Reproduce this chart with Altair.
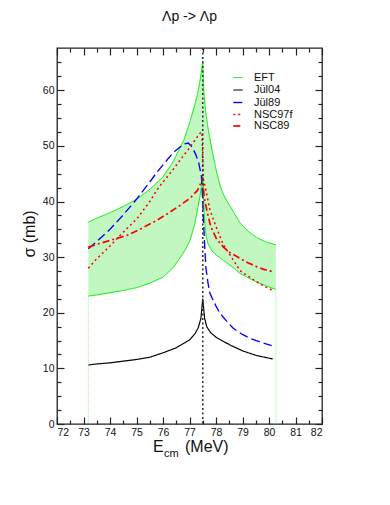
import altair as alt
import pandas as pd

FONT = "Liberation Sans"

TITLE = "Λp -> Λp"
X_TITLE_MAIN = "E"
X_TITLE_SUB = "cm"
X_TITLE_UNIT = "(MeV)"
Y_TITLE = "σ (mb)"

MODELS = ["EFT", "Jül04", "Jül89", "NSC97f", "NSC89"]
COLORS = ["#00ee00", "#000000", "#0000ff", "#ff0000", "#ff0000"]
DASHES = [[1, 0], [1, 0], [9, 4], [2, 3], [7, 3, 2, 3]]
WIDTHS = [1.0, 1.7, 1.9, 1.9, 1.9]

X_DOMAIN = [72, 82]
Y_DOMAIN = [0, 67.6]
X_TICKS = [72, 73, 74, 75, 76, 77, 78, 79, 80, 81, 82]
X_MINOR = [72.5, 73.5, 74.5, 75.5, 76.5, 77.5, 78.5, 79.5, 80.5, 81.5]
Y_TICKS = [0, 10, 20, 30, 40, 50, 60]
Y_MINOR = [2.5, 5, 7.5, 12.5, 15, 17.5, 22.5, 25, 27.5, 32.5, 35, 37.5,
           42.5, 45, 47.5, 52.5, 55, 57.5, 62.5, 65]

THRESHOLD_E = [77.5]

# EFT band
BAND_E = [73.18, 73.5, 74.0, 74.5, 75.0, 75.5, 76.0, 76.4, 76.8, 77.02, 77.2, 77.3,
          77.4, 77.47, 77.5, 77.53, 77.57, 77.62, 77.7, 77.85, 78.0, 78.15, 78.28,
          78.4, 78.65, 78.9, 79.2, 79.54, 79.9, 80.26]
BAND_HI = [36.3, 37.0, 38.0, 39.1, 40.4, 42.2, 44.4, 47.3, 51.2, 54.4, 57.4, 59.3,
           61.8, 64.0, 65.3, 61.0, 58.2, 55.8, 53.2, 49.2, 45.8, 42.9, 41.3,
           40.2, 38.2, 36.2, 34.7, 33.5, 32.7, 32.2]
BAND_LO = [23.0, 23.2, 23.6, 24.0, 24.5, 25.3, 26.4, 28.2, 31.0, 33.0, 36.0, 38.5,
           41.0, 43.5, 44.6, 40.5, 36.5, 34.0, 32.4, 31.1, 30.4, 29.9, 29.4,
           29.0, 28.1, 27.1, 26.3, 25.5, 24.8, 24.2]

# Jül04
J04_E = [73.18, 73.5, 74.0, 74.5, 75.0, 75.5, 76.0, 76.5, 77.0, 77.2, 77.33, 77.43,
         77.5, 77.57, 77.65, 77.8, 78.03, 78.3, 78.53, 79.03, 79.54, 80.14]
J04_S = [10.6, 10.8, 11.0, 11.3, 11.6, 12.0, 12.8, 13.7, 15.1, 16.2, 17.3, 19.0,
         22.5, 19.0, 17.5, 16.4, 15.5, 14.8, 14.2, 13.1, 12.3, 11.7]

# Jül89
J89_E = [73.18, 73.5, 74.0, 74.5, 75.0, 75.5, 75.76, 76.0, 76.39, 76.77, 76.95,
         77.1, 77.25, 77.35, 77.45, 77.5, 77.52, 77.58, 77.62, 77.7, 77.77, 78.0,
         78.15, 78.4, 78.65, 79.0, 79.28, 79.7, 80.1]
J89_S = [31.5, 32.8, 35.0, 37.6, 40.4, 43.5, 45.2, 46.6, 48.8, 50.3, 50.5,
         49.8, 48.3, 46.9, 44.5, 40.0, 37.4, 31.4, 28.0, 25.3, 23.5, 21.2,
         19.9, 18.5, 17.2, 16.1, 15.4, 14.7, 14.1]

# NSC97f
N97_E = [73.18, 73.5, 74.0, 74.5, 75.0, 75.5, 75.76, 76.0, 76.39, 76.7, 76.96,
         77.2, 77.4, 77.47, 77.5, 77.52, 77.6, 77.77, 78.0, 78.28, 78.65, 78.9,
         79.2, 79.53, 79.8, 80.16]
N97_S = [28.0, 29.7, 32.0, 34.5, 36.8, 40.0, 42.0, 43.5, 45.8, 47.8, 49.4,
         51.0, 52.3, 52.5, 47.0, 44.0, 42.5, 38.5, 35.5, 32.2, 29.5, 27.6,
         26.6, 25.6, 24.8, 24.0]

# NSC89
N89_E = [73.18, 73.5, 74.0, 74.63, 75.13, 75.76, 76.2, 76.64, 77.02, 77.3, 77.45,
         77.5, 77.55, 77.65, 77.8, 78.03, 78.28, 78.53, 78.9, 79.2, 79.53, 79.8, 80.13]
N89_S = [31.8, 32.3, 33.0, 33.9, 35.0, 36.6, 37.9, 39.3, 40.6, 42.0, 43.5,
         44.3, 41.0, 38.5, 35.5, 33.2, 31.8, 30.8, 29.8, 29.0, 28.3, 27.8, 27.4]

# ---------------------------------------------------------------- tables
band_df = pd.DataFrame({"E": BAND_E, "lo": BAND_LO, "hi": BAND_HI})

rows = []
for e, v in zip(BAND_E, BAND_HI):
    rows.append({"E": e, "sigma": v, "model": "EFT", "part": "EFT_hi"})
for e, v in zip(BAND_E, BAND_LO):
    rows.append({"E": e, "sigma": v, "model": "EFT", "part": "EFT_lo"})
for name, es, ss in [("Jül04", J04_E, J04_S), ("Jül89", J89_E, J89_S),
                     ("NSC97f", N97_E, N97_S), ("NSC89", N89_E, N89_S)]:
    for e, v in zip(es, ss):
        rows.append({"E": e, "sigma": v, "model": name, "part": name})
lines_df = pd.DataFrame(rows)

thr_df = pd.DataFrame({"E": THRESHOLD_E})
edge_df = pd.DataFrame({"E": [BAND_E[0], BAND_E[-1]],
                        "top": [BAND_LO[0], BAND_LO[-1]],
                        "base": [0, 0]})

W, H = 265, 376

xs = alt.Scale(domain=X_DOMAIN, nice=False, zero=False)
ys = alt.Scale(domain=Y_DOMAIN, nice=False, zero=False)


def major(orient, values, labels, flush=True):
    return alt.Axis(orient=orient, values=values, offset=-7, tickSize=7,
                    domain=False, grid=False, labels=labels, title=None,
                    labelFontSize=10.5, labelFont=FONT, labelColor="#111",
                    labelPadding=3, tickColor="#222", tickWidth=1.2,
                    labelOverlap=False, labelFlush=flush, zindex=2)


def minor(orient, values):
    return alt.Axis(orient=orient, values=values, offset=-4, tickSize=4,
                    domain=False, grid=False, labels=False, title=None,
                    tickColor="#222", tickWidth=1.2, zindex=2)


band = alt.Chart(band_df).mark_area(color="#c2f7c2", opacity=1.0).encode(
    x=alt.X("E:Q", scale=xs, axis=major("bottom", X_TICKS, True)),
    y=alt.Y("lo:Q", scale=ys, axis=major("left", Y_TICKS, True, False)),
    y2="hi:Q",
)

legend = alt.Legend(orient="none", legendX=175, legendY=24, title=None,
                    symbolType="stroke", symbolSize=90, symbolStrokeWidth=1.6,
                    labelFontSize=11, labelFont=FONT, labelColor="#111",
                    labelOffset=10, rowPadding=0.5, padding=0)

lines = alt.Chart(lines_df).mark_line(clip=True).encode(
    x=alt.X("E:Q", scale=xs, axis=minor("bottom", X_MINOR)),
    y=alt.Y("sigma:Q", scale=ys, axis=minor("left", Y_MINOR)),
    color=alt.Color("model:N", scale=alt.Scale(domain=MODELS, range=COLORS),
                    legend=legend, sort=MODELS),
    strokeDash=alt.StrokeDash("model:N", scale=alt.Scale(domain=MODELS, range=DASHES),
                              legend=legend, sort=MODELS),
    strokeWidth=alt.StrokeWidth("model:N", scale=alt.Scale(domain=MODELS, range=WIDTHS),
                                legend=None),
    detail="part:N",
)

thr = alt.Chart(thr_df).mark_rule(color="#333", strokeDash=[2, 2.5], strokeWidth=1.6).encode(
    x=alt.X("E:Q", scale=xs, axis=major("top", X_TICKS, False)),
    y=alt.value(0),
    y2=alt.value(H),
)

edges = alt.Chart(edge_df).mark_rule(color="#7de87d", strokeDash=[1, 1], strokeWidth=0.8).encode(
    x=alt.X("E:Q", scale=xs, axis=minor("top", X_MINOR)),
    y=alt.Y("top:Q", scale=ys, axis=minor("right", Y_MINOR)),
    y2="base:Q",
)

thr_y = alt.Chart(thr_df).mark_point(opacity=0).encode(
    x=alt.X("E:Q", scale=xs, axis=None),
    y=alt.Y("E:Q", scale=ys, axis=major("right", Y_TICKS, False, False)),
)


def label(text, x, y, size, **kw):
    return alt.Chart(pd.DataFrame({"t": [text]})).mark_text(
        font=FONT, fontSize=size, color="#111", **kw
    ).encode(text="t:N", x=alt.value(x), y=alt.value(y))


title = label(TITLE, W / 2, -27, 14, align="center", baseline="alphabetic")
xt_main = label(X_TITLE_MAIN, 96, 404, 16, align="left", baseline="alphabetic")
xt_sub = label(X_TITLE_SUB, 107, 409, 11, align="left", baseline="alphabetic")
xt_unit = label(X_TITLE_UNIT, 128, 404, 16, align="left", baseline="alphabetic")
yt = label(Y_TITLE, -27, 186, 16, align="center", baseline="middle", angle=270)

chart = alt.layer(band, lines, thr, edges, thr_y, title, xt_main, xt_sub, xt_unit, yt).resolve_axis(
    x="independent", y="independent"
).properties(
    width=W, height=H,
    autosize=alt.AutoSizeParams(type="none"),
    padding={"left": 49, "top": 40, "right": 60, "bottom": 65},
).configure_view(stroke="#222", strokeWidth=1.3)

chart.save("out.html", embed_options={"renderer": "svg", "actions": False})
